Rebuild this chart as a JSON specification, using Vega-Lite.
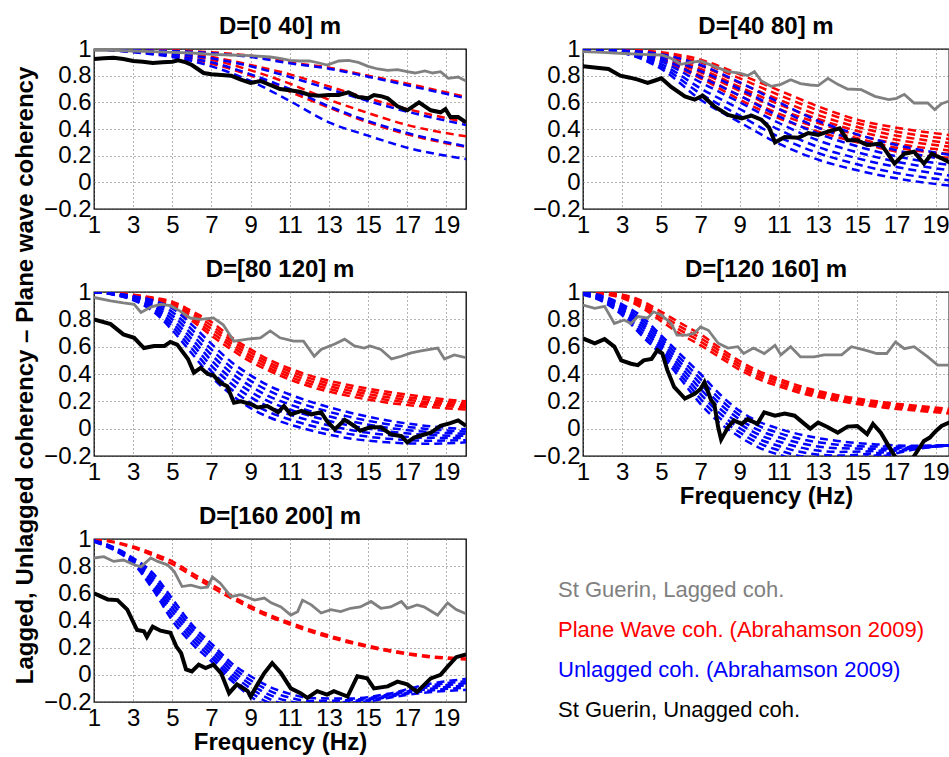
{
"$schema": "https://vega.github.io/schema/vega-lite/v6.json",
"padding": {"left": 13, "top": 14, "right": 0, "bottom": 0},
"config": {
 "font": "Liberation Sans",
 "view": {"stroke": "black", "strokeWidth": 1.3},
 "axis": {"labelFont": "Liberation Sans", "labelFontSize": 24, "labelColor": "black", "ticks": false, "domain": false, "grid": true, "gridDash": [1, 3], "gridColor": "#666666", "gridWidth": 1, "labelPadding": 3, "titleFont": "Liberation Sans", "titleFontSize": 24, "titleFontWeight": "bold", "titleColor": "black", "labelOverlap": false, "labelFlush": false},
 "axisX": {"labelPadding": 4, "titlePadding": 0},
 "axisY": {"titlePadding": 5},
 "title": {"fontSize": 24, "fontWeight": "bold", "color": "black", "font": "Liberation Sans", "offset": -2, "baseline": "alphabetic", "frame": "group"}
},
"datasets": {"d": [
{"p":1,"s":"r1","f":1,"v":1},{"p":1,"s":"r1","f":3,"v":0.995},{"p":1,"s":"r1","f":5,"v":0.99},{"p":1,"s":"r1","f":7,"v":0.975},{"p":1,"s":"r1","f":9,"v":0.95},{"p":1,"s":"r1","f":11,"v":0.9},{"p":1,"s":"r1","f":13,"v":0.86},{"p":1,"s":"r1","f":15,"v":0.8},{"p":1,"s":"r1","f":17,"v":0.74},{"p":1,"s":"r1","f":20,"v":0.64},
{"p":1,"s":"b1","f":1,"v":1},{"p":1,"s":"b1","f":3,"v":0.99},{"p":1,"s":"b1","f":5,"v":0.985},{"p":1,"s":"b1","f":7,"v":0.968},{"p":1,"s":"b1","f":9,"v":0.94},{"p":1,"s":"b1","f":11,"v":0.893},{"p":1,"s":"b1","f":13,"v":0.852},{"p":1,"s":"b1","f":15,"v":0.792},{"p":1,"s":"b1","f":17,"v":0.728},{"p":1,"s":"b1","f":20,"v":0.63},
{"p":1,"s":"r2","f":1,"v":1},{"p":1,"s":"r2","f":3,"v":0.99},{"p":1,"s":"r2","f":5,"v":0.97},{"p":1,"s":"r2","f":7,"v":0.94},{"p":1,"s":"r2","f":9,"v":0.88},{"p":1,"s":"r2","f":11,"v":0.81},{"p":1,"s":"r2","f":13,"v":0.72},{"p":1,"s":"r2","f":15,"v":0.63},{"p":1,"s":"r2","f":17,"v":0.55},{"p":1,"s":"r2","f":20,"v":0.45},
{"p":1,"s":"b2","f":1,"v":1},{"p":1,"s":"b2","f":3,"v":0.988},{"p":1,"s":"b2","f":5,"v":0.965},{"p":1,"s":"b2","f":7,"v":0.93},{"p":1,"s":"b2","f":9,"v":0.87},{"p":1,"s":"b2","f":11,"v":0.79},{"p":1,"s":"b2","f":13,"v":0.7},{"p":1,"s":"b2","f":15,"v":0.61},{"p":1,"s":"b2","f":17,"v":0.53},{"p":1,"s":"b2","f":20,"v":0.43},
{"p":1,"s":"r3","f":1,"v":1},{"p":1,"s":"r3","f":3,"v":0.985},{"p":1,"s":"r3","f":5,"v":0.96},{"p":1,"s":"r3","f":7,"v":0.92},{"p":1,"s":"r3","f":9,"v":0.84},{"p":1,"s":"r3","f":11,"v":0.74},{"p":1,"s":"r3","f":13,"v":0.62},{"p":1,"s":"r3","f":15,"v":0.52},{"p":1,"s":"r3","f":17,"v":0.43},{"p":1,"s":"r3","f":20,"v":0.345},
{"p":1,"s":"b3","f":1,"v":1},{"p":1,"s":"b3","f":3,"v":0.98},{"p":1,"s":"b3","f":5,"v":0.95},{"p":1,"s":"b3","f":7,"v":0.9},{"p":1,"s":"b3","f":9,"v":0.81},{"p":1,"s":"b3","f":11,"v":0.7},{"p":1,"s":"b3","f":13,"v":0.57},{"p":1,"s":"b3","f":15,"v":0.46},{"p":1,"s":"b3","f":17,"v":0.37},{"p":1,"s":"b3","f":20,"v":0.27},
{"p":1,"s":"r4","f":1,"v":1},{"p":1,"s":"r4","f":3,"v":0.98},{"p":1,"s":"r4","f":5,"v":0.95},{"p":1,"s":"r4","f":7,"v":0.89},{"p":1,"s":"r4","f":9,"v":0.8},{"p":1,"s":"r4","f":11,"v":0.68},{"p":1,"s":"r4","f":13,"v":0.56},{"p":1,"s":"r4","f":15,"v":0.45},{"p":1,"s":"r4","f":17,"v":0.36},{"p":1,"s":"r4","f":20,"v":0.265},
{"p":1,"s":"b4","f":1,"v":1},{"p":1,"s":"b4","f":3,"v":0.975},{"p":1,"s":"b4","f":5,"v":0.94},{"p":1,"s":"b4","f":7,"v":0.87},{"p":1,"s":"b4","f":9,"v":0.76},{"p":1,"s":"b4","f":11,"v":0.61},{"p":1,"s":"b4","f":13,"v":0.45},{"p":1,"s":"b4","f":15,"v":0.35},{"p":1,"s":"b4","f":17,"v":0.26},{"p":1,"s":"b4","f":20,"v":0.175},
{"p":1,"s":"g","f":1,"v":0.99},{"p":1,"s":"g","f":2,"v":0.99},{"p":1,"s":"g","f":3,"v":0.985},{"p":1,"s":"g","f":4,"v":0.98},{"p":1,"s":"g","f":5,"v":0.975},{"p":1,"s":"g","f":6,"v":0.97},{"p":1,"s":"g","f":7,"v":0.96},{"p":1,"s":"g","f":8,"v":0.955},{"p":1,"s":"g","f":9,"v":0.95},{"p":1,"s":"g","f":10,"v":0.94},{"p":1,"s":"g","f":10.5,"v":0.93},{"p":1,"s":"g","f":11,"v":0.915},{"p":1,"s":"g","f":11.5,"v":0.91},{"p":1,"s":"g","f":12,"v":0.91},{"p":1,"s":"g","f":12.5,"v":0.895},{"p":1,"s":"g","f":12.9,"v":0.88},{"p":1,"s":"g","f":13.5,"v":0.91},{"p":1,"s":"g","f":14,"v":0.915},{"p":1,"s":"g","f":14.5,"v":0.9},{"p":1,"s":"g","f":15,"v":0.87},{"p":1,"s":"g","f":15.5,"v":0.85},{"p":1,"s":"g","f":16,"v":0.84},{"p":1,"s":"g","f":16.5,"v":0.845},{"p":1,"s":"g","f":17,"v":0.83},{"p":1,"s":"g","f":17.4,"v":0.82},{"p":1,"s":"g","f":17.9,"v":0.835},{"p":1,"s":"g","f":18.3,"v":0.82},{"p":1,"s":"g","f":18.7,"v":0.83},{"p":1,"s":"g","f":19.1,"v":0.78},{"p":1,"s":"g","f":19.6,"v":0.79},{"p":1,"s":"g","f":20,"v":0.76},
{"p":1,"s":"k","f":1,"v":0.925},{"p":1,"s":"k","f":1.5,"v":0.93},{"p":1,"s":"k","f":2,"v":0.935},{"p":1,"s":"k","f":2.5,"v":0.925},{"p":1,"s":"k","f":3,"v":0.91},{"p":1,"s":"k","f":3.5,"v":0.905},{"p":1,"s":"k","f":4,"v":0.895},{"p":1,"s":"k","f":4.5,"v":0.9},{"p":1,"s":"k","f":5,"v":0.905},{"p":1,"s":"k","f":5.3,"v":0.915},{"p":1,"s":"k","f":5.7,"v":0.9},{"p":1,"s":"k","f":6,"v":0.88},{"p":1,"s":"k","f":6.3,"v":0.85},{"p":1,"s":"k","f":6.6,"v":0.82},{"p":1,"s":"k","f":7,"v":0.81},{"p":1,"s":"k","f":7.5,"v":0.805},{"p":1,"s":"k","f":8,"v":0.8},{"p":1,"s":"k","f":8.5,"v":0.77},{"p":1,"s":"k","f":9,"v":0.745},{"p":1,"s":"k","f":9.5,"v":0.76},{"p":1,"s":"k","f":10,"v":0.73},{"p":1,"s":"k","f":10.5,"v":0.7},{"p":1,"s":"k","f":11,"v":0.69},{"p":1,"s":"k","f":11.5,"v":0.68},{"p":1,"s":"k","f":12,"v":0.655},{"p":1,"s":"k","f":12.5,"v":0.65},{"p":1,"s":"k","f":13,"v":0.655},{"p":1,"s":"k","f":13.5,"v":0.655},{"p":1,"s":"k","f":14,"v":0.675},{"p":1,"s":"k","f":14.5,"v":0.64},{"p":1,"s":"k","f":15,"v":0.63},{"p":1,"s":"k","f":15.3,"v":0.655},{"p":1,"s":"k","f":15.7,"v":0.645},{"p":1,"s":"k","f":16,"v":0.63},{"p":1,"s":"k","f":16.5,"v":0.57},{"p":1,"s":"k","f":17,"v":0.54},{"p":1,"s":"k","f":17.6,"v":0.6},{"p":1,"s":"k","f":18.2,"v":0.54},{"p":1,"s":"k","f":18.7,"v":0.525},{"p":1,"s":"k","f":18.95,"v":0.55},{"p":1,"s":"k","f":19.2,"v":0.49},{"p":1,"s":"k","f":19.6,"v":0.49},{"p":1,"s":"k","f":20,"v":0.45},
{"p":2,"s":"r1","f":1,"v":1},{"p":2,"s":"r1","f":3,"v":0.995},{"p":2,"s":"r1","f":5,"v":0.975},{"p":2,"s":"r1","f":7,"v":0.92},{"p":2,"s":"r1","f":9,"v":0.81},{"p":2,"s":"r1","f":11,"v":0.69},{"p":2,"s":"r1","f":13,"v":0.57},{"p":2,"s":"r1","f":15,"v":0.47},{"p":2,"s":"r1","f":17,"v":0.41},{"p":2,"s":"r1","f":20,"v":0.35},
{"p":2,"s":"r2","f":1,"v":1},{"p":2,"s":"r2","f":3,"v":0.993},{"p":2,"s":"r2","f":5,"v":0.965},{"p":2,"s":"r2","f":7,"v":0.9},{"p":2,"s":"r2","f":9,"v":0.78},{"p":2,"s":"r2","f":11,"v":0.655},{"p":2,"s":"r2","f":13,"v":0.54},{"p":2,"s":"r2","f":15,"v":0.445},{"p":2,"s":"r2","f":17,"v":0.38},{"p":2,"s":"r2","f":20,"v":0.32},
{"p":2,"s":"r3","f":1,"v":1},{"p":2,"s":"r3","f":3,"v":0.99},{"p":2,"s":"r3","f":5,"v":0.953},{"p":2,"s":"r3","f":7,"v":0.873},{"p":2,"s":"r3","f":9,"v":0.745},{"p":2,"s":"r3","f":11,"v":0.62},{"p":2,"s":"r3","f":13,"v":0.505},{"p":2,"s":"r3","f":15,"v":0.415},{"p":2,"s":"r3","f":17,"v":0.35},{"p":2,"s":"r3","f":20,"v":0.29},
{"p":2,"s":"r4","f":1,"v":1},{"p":2,"s":"r4","f":3,"v":0.988},{"p":2,"s":"r4","f":5,"v":0.943},{"p":2,"s":"r4","f":7,"v":0.85},{"p":2,"s":"r4","f":9,"v":0.715},{"p":2,"s":"r4","f":11,"v":0.585},{"p":2,"s":"r4","f":13,"v":0.475},{"p":2,"s":"r4","f":15,"v":0.385},{"p":2,"s":"r4","f":17,"v":0.32},{"p":2,"s":"r4","f":20,"v":0.265},
{"p":2,"s":"r5","f":1,"v":1},{"p":2,"s":"r5","f":3,"v":0.985},{"p":2,"s":"r5","f":5,"v":0.932},{"p":2,"s":"r5","f":7,"v":0.825},{"p":2,"s":"r5","f":9,"v":0.685},{"p":2,"s":"r5","f":11,"v":0.55},{"p":2,"s":"r5","f":13,"v":0.445},{"p":2,"s":"r5","f":15,"v":0.355},{"p":2,"s":"r5","f":17,"v":0.29},{"p":2,"s":"r5","f":20,"v":0.235},
{"p":2,"s":"r6","f":1,"v":1},{"p":2,"s":"r6","f":3,"v":0.983},{"p":2,"s":"r6","f":5,"v":0.92},{"p":2,"s":"r6","f":7,"v":0.8},{"p":2,"s":"r6","f":9,"v":0.65},{"p":2,"s":"r6","f":11,"v":0.515},{"p":2,"s":"r6","f":13,"v":0.41},{"p":2,"s":"r6","f":15,"v":0.33},{"p":2,"s":"r6","f":17,"v":0.26},{"p":2,"s":"r6","f":20,"v":0.21},
{"p":2,"s":"r7","f":1,"v":1},{"p":2,"s":"r7","f":3,"v":0.98},{"p":2,"s":"r7","f":5,"v":0.91},{"p":2,"s":"r7","f":7,"v":0.78},{"p":2,"s":"r7","f":9,"v":0.62},{"p":2,"s":"r7","f":11,"v":0.48},{"p":2,"s":"r7","f":13,"v":0.38},{"p":2,"s":"r7","f":15,"v":0.3},{"p":2,"s":"r7","f":17,"v":0.23},{"p":2,"s":"r7","f":20,"v":0.18},
{"p":2,"s":"b1","f":1,"v":1},{"p":2,"s":"b1","f":3,"v":0.99},{"p":2,"s":"b1","f":5,"v":0.96},{"p":2,"s":"b1","f":7,"v":0.88},{"p":2,"s":"b1","f":9,"v":0.75},{"p":2,"s":"b1","f":11,"v":0.6},{"p":2,"s":"b1","f":13,"v":0.46},{"p":2,"s":"b1","f":15,"v":0.36},{"p":2,"s":"b1","f":17,"v":0.28},{"p":2,"s":"b1","f":20,"v":0.2},
{"p":2,"s":"b2","f":1,"v":1},{"p":2,"s":"b2","f":3,"v":0.987},{"p":2,"s":"b2","f":5,"v":0.942},{"p":2,"s":"b2","f":7,"v":0.835},{"p":2,"s":"b2","f":9,"v":0.7},{"p":2,"s":"b2","f":11,"v":0.55},{"p":2,"s":"b2","f":13,"v":0.41},{"p":2,"s":"b2","f":15,"v":0.315},{"p":2,"s":"b2","f":17,"v":0.24},{"p":2,"s":"b2","f":20,"v":0.16},
{"p":2,"s":"b3","f":1,"v":1},{"p":2,"s":"b3","f":3,"v":0.983},{"p":2,"s":"b3","f":5,"v":0.923},{"p":2,"s":"b3","f":7,"v":0.79},{"p":2,"s":"b3","f":9,"v":0.65},{"p":2,"s":"b3","f":11,"v":0.495},{"p":2,"s":"b3","f":13,"v":0.365},{"p":2,"s":"b3","f":15,"v":0.27},{"p":2,"s":"b3","f":17,"v":0.195},{"p":2,"s":"b3","f":20,"v":0.125},
{"p":2,"s":"b4","f":1,"v":1},{"p":2,"s":"b4","f":3,"v":0.98},{"p":2,"s":"b4","f":5,"v":0.905},{"p":2,"s":"b4","f":7,"v":0.75},{"p":2,"s":"b4","f":9,"v":0.6},{"p":2,"s":"b4","f":11,"v":0.445},{"p":2,"s":"b4","f":13,"v":0.315},{"p":2,"s":"b4","f":15,"v":0.225},{"p":2,"s":"b4","f":17,"v":0.155},{"p":2,"s":"b4","f":20,"v":0.085},
{"p":2,"s":"b5","f":1,"v":1},{"p":2,"s":"b5","f":3,"v":0.977},{"p":2,"s":"b5","f":5,"v":0.887},{"p":2,"s":"b5","f":7,"v":0.705},{"p":2,"s":"b5","f":9,"v":0.55},{"p":2,"s":"b5","f":11,"v":0.395},{"p":2,"s":"b5","f":13,"v":0.265},{"p":2,"s":"b5","f":15,"v":0.18},{"p":2,"s":"b5","f":17,"v":0.115},{"p":2,"s":"b5","f":20,"v":0.045},
{"p":2,"s":"b6","f":1,"v":1},{"p":2,"s":"b6","f":3,"v":0.973},{"p":2,"s":"b6","f":5,"v":0.868},{"p":2,"s":"b6","f":7,"v":0.665},{"p":2,"s":"b6","f":9,"v":0.5},{"p":2,"s":"b6","f":11,"v":0.34},{"p":2,"s":"b6","f":13,"v":0.22},{"p":2,"s":"b6","f":15,"v":0.135},{"p":2,"s":"b6","f":17,"v":0.07},{"p":2,"s":"b6","f":20,"v":0.01},
{"p":2,"s":"b7","f":1,"v":1},{"p":2,"s":"b7","f":3,"v":0.97},{"p":2,"s":"b7","f":5,"v":0.85},{"p":2,"s":"b7","f":7,"v":0.62},{"p":2,"s":"b7","f":9,"v":0.45},{"p":2,"s":"b7","f":11,"v":0.29},{"p":2,"s":"b7","f":13,"v":0.17},{"p":2,"s":"b7","f":15,"v":0.09},{"p":2,"s":"b7","f":17,"v":0.03},{"p":2,"s":"b7","f":20,"v":-0.03},
{"p":2,"s":"g","f":1,"v":0.98},{"p":2,"s":"g","f":2,"v":0.975},{"p":2,"s":"g","f":2.6,"v":0.97},{"p":2,"s":"g","f":4,"v":0.96},{"p":2,"s":"g","f":5,"v":0.955},{"p":2,"s":"g","f":5.5,"v":0.93},{"p":2,"s":"g","f":6,"v":0.885},{"p":2,"s":"g","f":6.5,"v":0.9},{"p":2,"s":"g","f":7,"v":0.91},{"p":2,"s":"g","f":7.7,"v":0.87},{"p":2,"s":"g","f":8.4,"v":0.83},{"p":2,"s":"g","f":9,"v":0.82},{"p":2,"s":"g","f":9.4,"v":0.8},{"p":2,"s":"g","f":9.75,"v":0.83},{"p":2,"s":"g","f":10.1,"v":0.76},{"p":2,"s":"g","f":10.6,"v":0.72},{"p":2,"s":"g","f":11.1,"v":0.735},{"p":2,"s":"g","f":11.6,"v":0.77},{"p":2,"s":"g","f":12.1,"v":0.74},{"p":2,"s":"g","f":12.6,"v":0.73},{"p":2,"s":"g","f":13,"v":0.725},{"p":2,"s":"g","f":13.5,"v":0.78},{"p":2,"s":"g","f":14,"v":0.735},{"p":2,"s":"g","f":14.5,"v":0.7},{"p":2,"s":"g","f":15.2,"v":0.695},{"p":2,"s":"g","f":15.9,"v":0.645},{"p":2,"s":"g","f":16.6,"v":0.62},{"p":2,"s":"g","f":17,"v":0.63},{"p":2,"s":"g","f":17.4,"v":0.66},{"p":2,"s":"g","f":17.9,"v":0.595},{"p":2,"s":"g","f":18.6,"v":0.595},{"p":2,"s":"g","f":18.95,"v":0.545},{"p":2,"s":"g","f":19.3,"v":0.59},{"p":2,"s":"g","f":19.7,"v":0.61},{"p":2,"s":"g","f":20,"v":0.6},
{"p":2,"s":"k","f":1,"v":0.87},{"p":2,"s":"k","f":1.7,"v":0.86},{"p":2,"s":"k","f":2.3,"v":0.85},{"p":2,"s":"k","f":2.9,"v":0.8},{"p":2,"s":"k","f":3.4,"v":0.785},{"p":2,"s":"k","f":3.8,"v":0.77},{"p":2,"s":"k","f":4.3,"v":0.745},{"p":2,"s":"k","f":4.6,"v":0.76},{"p":2,"s":"k","f":5,"v":0.78},{"p":2,"s":"k","f":5.5,"v":0.715},{"p":2,"s":"k","f":6.2,"v":0.645},{"p":2,"s":"k","f":6.7,"v":0.62},{"p":2,"s":"k","f":7.1,"v":0.65},{"p":2,"s":"k","f":7.7,"v":0.57},{"p":2,"s":"k","f":8.4,"v":0.505},{"p":2,"s":"k","f":9.1,"v":0.48},{"p":2,"s":"k","f":9.6,"v":0.5},{"p":2,"s":"k","f":10.1,"v":0.47},{"p":2,"s":"k","f":10.5,"v":0.41},{"p":2,"s":"k","f":10.8,"v":0.3},{"p":2,"s":"k","f":11.3,"v":0.34},{"p":2,"s":"k","f":12,"v":0.335},{"p":2,"s":"k","f":12.5,"v":0.37},{"p":2,"s":"k","f":13,"v":0.355},{"p":2,"s":"k","f":13.5,"v":0.38},{"p":2,"s":"k","f":14.1,"v":0.405},{"p":2,"s":"k","f":14.5,"v":0.315},{"p":2,"s":"k","f":15,"v":0.315},{"p":2,"s":"k","f":15.5,"v":0.28},{"p":2,"s":"k","f":16.2,"v":0.29},{"p":2,"s":"k","f":16.9,"v":0.14},{"p":2,"s":"k","f":17.4,"v":0.215},{"p":2,"s":"k","f":17.9,"v":0.23},{"p":2,"s":"k","f":18.4,"v":0.14},{"p":2,"s":"k","f":18.8,"v":0.215},{"p":2,"s":"k","f":19.3,"v":0.18},{"p":2,"s":"k","f":19.7,"v":0.15},{"p":2,"s":"k","f":20,"v":0.14},
{"p":3,"s":"r1","f":1,"v":1},{"p":3,"s":"r1","f":2,"v":0.995},{"p":3,"s":"r1","f":3,"v":0.98},{"p":3,"s":"r1","f":4,"v":0.96},{"p":3,"s":"r1","f":5,"v":0.93},{"p":3,"s":"r1","f":6,"v":0.86},{"p":3,"s":"r1","f":7,"v":0.78},{"p":3,"s":"r1","f":8,"v":0.67},{"p":3,"s":"r1","f":9,"v":0.58},{"p":3,"s":"r1","f":10,"v":0.5},{"p":3,"s":"r1","f":11,"v":0.44},{"p":3,"s":"r1","f":12,"v":0.39},{"p":3,"s":"r1","f":14,"v":0.32},{"p":3,"s":"r1","f":16,"v":0.27},{"p":3,"s":"r1","f":18,"v":0.23},{"p":3,"s":"r1","f":20,"v":0.2},
{"p":3,"s":"r2","f":1,"v":1},{"p":3,"s":"r2","f":2,"v":0.994},{"p":3,"s":"r2","f":3,"v":0.978},{"p":3,"s":"r2","f":4,"v":0.955},{"p":3,"s":"r2","f":5,"v":0.92},{"p":3,"s":"r2","f":6,"v":0.843},{"p":3,"s":"r2","f":7,"v":0.755},{"p":3,"s":"r2","f":8,"v":0.648},{"p":3,"s":"r2","f":9,"v":0.558},{"p":3,"s":"r2","f":10,"v":0.48},{"p":3,"s":"r2","f":11,"v":0.42},{"p":3,"s":"r2","f":12,"v":0.37},{"p":3,"s":"r2","f":14,"v":0.3},{"p":3,"s":"r2","f":16,"v":0.25},{"p":3,"s":"r2","f":18,"v":0.213},{"p":3,"s":"r2","f":20,"v":0.185},
{"p":3,"s":"r3","f":1,"v":1},{"p":3,"s":"r3","f":2,"v":0.993},{"p":3,"s":"r3","f":3,"v":0.975},{"p":3,"s":"r3","f":4,"v":0.95},{"p":3,"s":"r3","f":5,"v":0.91},{"p":3,"s":"r3","f":6,"v":0.825},{"p":3,"s":"r3","f":7,"v":0.73},{"p":3,"s":"r3","f":8,"v":0.625},{"p":3,"s":"r3","f":9,"v":0.535},{"p":3,"s":"r3","f":10,"v":0.46},{"p":3,"s":"r3","f":11,"v":0.4},{"p":3,"s":"r3","f":12,"v":0.35},{"p":3,"s":"r3","f":14,"v":0.28},{"p":3,"s":"r3","f":16,"v":0.23},{"p":3,"s":"r3","f":18,"v":0.195},{"p":3,"s":"r3","f":20,"v":0.17},
{"p":3,"s":"r4","f":1,"v":1},{"p":3,"s":"r4","f":2,"v":0.991},{"p":3,"s":"r4","f":3,"v":0.973},{"p":3,"s":"r4","f":4,"v":0.945},{"p":3,"s":"r4","f":5,"v":0.9},{"p":3,"s":"r4","f":6,"v":0.808},{"p":3,"s":"r4","f":7,"v":0.705},{"p":3,"s":"r4","f":8,"v":0.603},{"p":3,"s":"r4","f":9,"v":0.513},{"p":3,"s":"r4","f":10,"v":0.44},{"p":3,"s":"r4","f":11,"v":0.38},{"p":3,"s":"r4","f":12,"v":0.33},{"p":3,"s":"r4","f":14,"v":0.26},{"p":3,"s":"r4","f":16,"v":0.21},{"p":3,"s":"r4","f":18,"v":0.178},{"p":3,"s":"r4","f":20,"v":0.155},
{"p":3,"s":"r5","f":1,"v":1},{"p":3,"s":"r5","f":2,"v":0.99},{"p":3,"s":"r5","f":3,"v":0.97},{"p":3,"s":"r5","f":4,"v":0.94},{"p":3,"s":"r5","f":5,"v":0.89},{"p":3,"s":"r5","f":6,"v":0.79},{"p":3,"s":"r5","f":7,"v":0.68},{"p":3,"s":"r5","f":8,"v":0.58},{"p":3,"s":"r5","f":9,"v":0.49},{"p":3,"s":"r5","f":10,"v":0.42},{"p":3,"s":"r5","f":11,"v":0.36},{"p":3,"s":"r5","f":12,"v":0.31},{"p":3,"s":"r5","f":14,"v":0.24},{"p":3,"s":"r5","f":16,"v":0.19},{"p":3,"s":"r5","f":18,"v":0.16},{"p":3,"s":"r5","f":20,"v":0.14},
{"p":3,"s":"b1","f":1,"v":1},{"p":3,"s":"b1","f":2,"v":0.99},{"p":3,"s":"b1","f":3,"v":0.97},{"p":3,"s":"b1","f":4,"v":0.94},{"p":3,"s":"b1","f":5,"v":0.88},{"p":3,"s":"b1","f":6,"v":0.76},{"p":3,"s":"b1","f":7,"v":0.62},{"p":3,"s":"b1","f":8,"v":0.49},{"p":3,"s":"b1","f":9,"v":0.39},{"p":3,"s":"b1","f":10,"v":0.31},{"p":3,"s":"b1","f":11,"v":0.25},{"p":3,"s":"b1","f":12,"v":0.2},{"p":3,"s":"b1","f":14,"v":0.12},{"p":3,"s":"b1","f":16,"v":0.06},{"p":3,"s":"b1","f":18,"v":0.02},{"p":3,"s":"b1","f":20,"v":-0.005},
{"p":3,"s":"b2","f":1,"v":1},{"p":3,"s":"b2","f":2,"v":0.988},{"p":3,"s":"b2","f":3,"v":0.965},{"p":3,"s":"b2","f":4,"v":0.927},{"p":3,"s":"b2","f":5,"v":0.853},{"p":3,"s":"b2","f":6,"v":0.725},{"p":3,"s":"b2","f":7,"v":0.58},{"p":3,"s":"b2","f":8,"v":0.45},{"p":3,"s":"b2","f":9,"v":0.35},{"p":3,"s":"b2","f":10,"v":0.272},{"p":3,"s":"b2","f":11,"v":0.213},{"p":3,"s":"b2","f":12,"v":0.165},{"p":3,"s":"b2","f":14,"v":0.088},{"p":3,"s":"b2","f":16,"v":0.033},{"p":3,"s":"b2","f":18,"v":-0.002},{"p":3,"s":"b2","f":20,"v":-0.021},
{"p":3,"s":"b3","f":1,"v":1},{"p":3,"s":"b3","f":2,"v":0.987},{"p":3,"s":"b3","f":3,"v":0.96},{"p":3,"s":"b3","f":4,"v":0.913},{"p":3,"s":"b3","f":5,"v":0.827},{"p":3,"s":"b3","f":6,"v":0.69},{"p":3,"s":"b3","f":7,"v":0.54},{"p":3,"s":"b3","f":8,"v":0.41},{"p":3,"s":"b3","f":9,"v":0.31},{"p":3,"s":"b3","f":10,"v":0.233},{"p":3,"s":"b3","f":11,"v":0.177},{"p":3,"s":"b3","f":12,"v":0.13},{"p":3,"s":"b3","f":14,"v":0.057},{"p":3,"s":"b3","f":16,"v":0.007},{"p":3,"s":"b3","f":18,"v":-0.023},{"p":3,"s":"b3","f":20,"v":-0.037},
{"p":3,"s":"b4","f":1,"v":1},{"p":3,"s":"b4","f":2,"v":0.985},{"p":3,"s":"b4","f":3,"v":0.955},{"p":3,"s":"b4","f":4,"v":0.9},{"p":3,"s":"b4","f":5,"v":0.8},{"p":3,"s":"b4","f":6,"v":0.655},{"p":3,"s":"b4","f":7,"v":0.5},{"p":3,"s":"b4","f":8,"v":0.37},{"p":3,"s":"b4","f":9,"v":0.27},{"p":3,"s":"b4","f":10,"v":0.195},{"p":3,"s":"b4","f":11,"v":0.14},{"p":3,"s":"b4","f":12,"v":0.095},{"p":3,"s":"b4","f":14,"v":0.025},{"p":3,"s":"b4","f":16,"v":-0.02},{"p":3,"s":"b4","f":18,"v":-0.045},{"p":3,"s":"b4","f":20,"v":-0.053},
{"p":3,"s":"b5","f":1,"v":1},{"p":3,"s":"b5","f":2,"v":0.983},{"p":3,"s":"b5","f":3,"v":0.95},{"p":3,"s":"b5","f":4,"v":0.887},{"p":3,"s":"b5","f":5,"v":0.773},{"p":3,"s":"b5","f":6,"v":0.62},{"p":3,"s":"b5","f":7,"v":0.46},{"p":3,"s":"b5","f":8,"v":0.33},{"p":3,"s":"b5","f":9,"v":0.23},{"p":3,"s":"b5","f":10,"v":0.157},{"p":3,"s":"b5","f":11,"v":0.103},{"p":3,"s":"b5","f":12,"v":0.06},{"p":3,"s":"b5","f":14,"v":-0.007},{"p":3,"s":"b5","f":16,"v":-0.047},{"p":3,"s":"b5","f":18,"v":-0.067},{"p":3,"s":"b5","f":20,"v":-0.068},
{"p":3,"s":"b6","f":1,"v":1},{"p":3,"s":"b6","f":2,"v":0.982},{"p":3,"s":"b6","f":3,"v":0.945},{"p":3,"s":"b6","f":4,"v":0.873},{"p":3,"s":"b6","f":5,"v":0.747},{"p":3,"s":"b6","f":6,"v":0.585},{"p":3,"s":"b6","f":7,"v":0.42},{"p":3,"s":"b6","f":8,"v":0.29},{"p":3,"s":"b6","f":9,"v":0.19},{"p":3,"s":"b6","f":10,"v":0.118},{"p":3,"s":"b6","f":11,"v":0.067},{"p":3,"s":"b6","f":12,"v":0.025},{"p":3,"s":"b6","f":14,"v":-0.038},{"p":3,"s":"b6","f":16,"v":-0.073},{"p":3,"s":"b6","f":18,"v":-0.088},{"p":3,"s":"b6","f":20,"v":-0.084},
{"p":3,"s":"b7","f":1,"v":1},{"p":3,"s":"b7","f":2,"v":0.98},{"p":3,"s":"b7","f":3,"v":0.94},{"p":3,"s":"b7","f":4,"v":0.86},{"p":3,"s":"b7","f":5,"v":0.72},{"p":3,"s":"b7","f":6,"v":0.55},{"p":3,"s":"b7","f":7,"v":0.38},{"p":3,"s":"b7","f":8,"v":0.25},{"p":3,"s":"b7","f":9,"v":0.15},{"p":3,"s":"b7","f":10,"v":0.08},{"p":3,"s":"b7","f":11,"v":0.03},{"p":3,"s":"b7","f":12,"v":-0.01},{"p":3,"s":"b7","f":14,"v":-0.07},{"p":3,"s":"b7","f":16,"v":-0.1},{"p":3,"s":"b7","f":18,"v":-0.11},{"p":3,"s":"b7","f":20,"v":-0.1},
{"p":3,"s":"g","f":1,"v":0.96},{"p":3,"s":"g","f":1.85,"v":0.935},{"p":3,"s":"g","f":2.5,"v":0.92},{"p":3,"s":"g","f":3.05,"v":0.91},{"p":3,"s":"g","f":3.4,"v":0.85},{"p":3,"s":"g","f":3.9,"v":0.89},{"p":3,"s":"g","f":4.4,"v":0.91},{"p":3,"s":"g","f":4.9,"v":0.9},{"p":3,"s":"g","f":5.4,"v":0.86},{"p":3,"s":"g","f":5.9,"v":0.81},{"p":3,"s":"g","f":6.45,"v":0.8},{"p":3,"s":"g","f":7.1,"v":0.81},{"p":3,"s":"g","f":7.6,"v":0.76},{"p":3,"s":"g","f":8.15,"v":0.64},{"p":3,"s":"g","f":8.85,"v":0.655},{"p":3,"s":"g","f":9.5,"v":0.665},{"p":3,"s":"g","f":10,"v":0.715},{"p":3,"s":"g","f":10.5,"v":0.665},{"p":3,"s":"g","f":11.2,"v":0.64},{"p":3,"s":"g","f":11.7,"v":0.64},{"p":3,"s":"g","f":12.25,"v":0.53},{"p":3,"s":"g","f":12.6,"v":0.58},{"p":3,"s":"g","f":13.3,"v":0.62},{"p":3,"s":"g","f":13.8,"v":0.655},{"p":3,"s":"g","f":14.3,"v":0.605},{"p":3,"s":"g","f":14.8,"v":0.59},{"p":3,"s":"g","f":15.1,"v":0.605},{"p":3,"s":"g","f":15.65,"v":0.58},{"p":3,"s":"g","f":16.2,"v":0.51},{"p":3,"s":"g","f":16.7,"v":0.53},{"p":3,"s":"g","f":17.2,"v":0.555},{"p":3,"s":"g","f":17.7,"v":0.57},{"p":3,"s":"g","f":18.55,"v":0.59},{"p":3,"s":"g","f":18.9,"v":0.51},{"p":3,"s":"g","f":19.4,"v":0.54},{"p":3,"s":"g","f":20,"v":0.52},
{"p":3,"s":"k","f":1,"v":0.8},{"p":3,"s":"k","f":1.85,"v":0.765},{"p":3,"s":"k","f":2.5,"v":0.69},{"p":3,"s":"k","f":3.05,"v":0.665},{"p":3,"s":"k","f":3.55,"v":0.59},{"p":3,"s":"k","f":4.07,"v":0.605},{"p":3,"s":"k","f":4.6,"v":0.605},{"p":3,"s":"k","f":4.9,"v":0.635},{"p":3,"s":"k","f":5.25,"v":0.615},{"p":3,"s":"k","f":5.8,"v":0.51},{"p":3,"s":"k","f":6.1,"v":0.41},{"p":3,"s":"k","f":6.45,"v":0.445},{"p":3,"s":"k","f":6.8,"v":0.4},{"p":3,"s":"k","f":7.1,"v":0.39},{"p":3,"s":"k","f":7.45,"v":0.335},{"p":3,"s":"k","f":7.8,"v":0.31},{"p":3,"s":"k","f":8.15,"v":0.19},{"p":3,"s":"k","f":8.5,"v":0.2},{"p":3,"s":"k","f":9,"v":0.18},{"p":3,"s":"k","f":9.35,"v":0.155},{"p":3,"s":"k","f":9.85,"v":0.165},{"p":3,"s":"k","f":10.4,"v":0.12},{"p":3,"s":"k","f":10.7,"v":0.165},{"p":3,"s":"k","f":11.05,"v":0.105},{"p":3,"s":"k","f":11.6,"v":0.13},{"p":3,"s":"k","f":12.1,"v":0.105},{"p":3,"s":"k","f":12.6,"v":0.12},{"p":3,"s":"k","f":12.9,"v":0.055},{"p":3,"s":"k","f":13.3,"v":-0.005},{"p":3,"s":"k","f":13.8,"v":0.065},{"p":3,"s":"k","f":14.3,"v":0.02},{"p":3,"s":"k","f":14.6,"v":-0.015},{"p":3,"s":"k","f":15.1,"v":0.01},{"p":3,"s":"k","f":15.65,"v":0.01},{"p":3,"s":"k","f":16.15,"v":-0.04},{"p":3,"s":"k","f":16.7,"v":-0.055},{"p":3,"s":"k","f":17,"v":-0.1},{"p":3,"s":"k","f":17.35,"v":-0.065},{"p":3,"s":"k","f":17.7,"v":-0.05},{"p":3,"s":"k","f":18.2,"v":-0.03},{"p":3,"s":"k","f":18.7,"v":0.02},{"p":3,"s":"k","f":19.2,"v":0.04},{"p":3,"s":"k","f":19.6,"v":0.06},{"p":3,"s":"k","f":20,"v":0.02},
{"p":4,"s":"r1","f":1,"v":1},{"p":4,"s":"r1","f":2,"v":0.995},{"p":4,"s":"r1","f":3,"v":0.98},{"p":4,"s":"r1","f":4,"v":0.935},{"p":4,"s":"r1","f":5,"v":0.855},{"p":4,"s":"r1","f":6,"v":0.77},{"p":4,"s":"r1","f":7,"v":0.69},{"p":4,"s":"r1","f":8,"v":0.59},{"p":4,"s":"r1","f":9,"v":0.495},{"p":4,"s":"r1","f":10,"v":0.42},{"p":4,"s":"r1","f":11,"v":0.365},{"p":4,"s":"r1","f":12,"v":0.315},{"p":4,"s":"r1","f":14,"v":0.245},{"p":4,"s":"r1","f":16,"v":0.2},{"p":4,"s":"r1","f":18,"v":0.168},{"p":4,"s":"r1","f":20,"v":0.142},
{"p":4,"s":"r2","f":1,"v":1},{"p":4,"s":"r2","f":2,"v":0.992},{"p":4,"s":"r2","f":3,"v":0.972},{"p":4,"s":"r2","f":4,"v":0.918},{"p":4,"s":"r2","f":5,"v":0.832},{"p":4,"s":"r2","f":6,"v":0.743},{"p":4,"s":"r2","f":7,"v":0.663},{"p":4,"s":"r2","f":8,"v":0.567},{"p":4,"s":"r2","f":9,"v":0.473},{"p":4,"s":"r2","f":10,"v":0.4},{"p":4,"s":"r2","f":11,"v":0.347},{"p":4,"s":"r2","f":12,"v":0.298},{"p":4,"s":"r2","f":14,"v":0.232},{"p":4,"s":"r2","f":16,"v":0.187},{"p":4,"s":"r2","f":18,"v":0.156},{"p":4,"s":"r2","f":20,"v":0.131},
{"p":4,"s":"r3","f":1,"v":1},{"p":4,"s":"r3","f":2,"v":0.988},{"p":4,"s":"r3","f":3,"v":0.963},{"p":4,"s":"r3","f":4,"v":0.902},{"p":4,"s":"r3","f":5,"v":0.808},{"p":4,"s":"r3","f":6,"v":0.717},{"p":4,"s":"r3","f":7,"v":0.637},{"p":4,"s":"r3","f":8,"v":0.543},{"p":4,"s":"r3","f":9,"v":0.452},{"p":4,"s":"r3","f":10,"v":0.38},{"p":4,"s":"r3","f":11,"v":0.328},{"p":4,"s":"r3","f":12,"v":0.282},{"p":4,"s":"r3","f":14,"v":0.218},{"p":4,"s":"r3","f":16,"v":0.173},{"p":4,"s":"r3","f":18,"v":0.144},{"p":4,"s":"r3","f":20,"v":0.119},
{"p":4,"s":"r4","f":1,"v":1},{"p":4,"s":"r4","f":2,"v":0.985},{"p":4,"s":"r4","f":3,"v":0.955},{"p":4,"s":"r4","f":4,"v":0.885},{"p":4,"s":"r4","f":5,"v":0.785},{"p":4,"s":"r4","f":6,"v":0.69},{"p":4,"s":"r4","f":7,"v":0.61},{"p":4,"s":"r4","f":8,"v":0.52},{"p":4,"s":"r4","f":9,"v":0.43},{"p":4,"s":"r4","f":10,"v":0.36},{"p":4,"s":"r4","f":11,"v":0.31},{"p":4,"s":"r4","f":12,"v":0.265},{"p":4,"s":"r4","f":14,"v":0.205},{"p":4,"s":"r4","f":16,"v":0.16},{"p":4,"s":"r4","f":18,"v":0.132},{"p":4,"s":"r4","f":20,"v":0.108},
{"p":4,"s":"b1","f":1,"v":1},{"p":4,"s":"b1","f":2,"v":0.97},{"p":4,"s":"b1","f":3,"v":0.91},{"p":4,"s":"b1","f":4,"v":0.82},{"p":4,"s":"b1","f":5,"v":0.68},{"p":4,"s":"b1","f":6,"v":0.54},{"p":4,"s":"b1","f":7,"v":0.4},{"p":4,"s":"b1","f":8,"v":0.25},{"p":4,"s":"b1","f":9,"v":0.13},{"p":4,"s":"b1","f":10,"v":0.05},{"p":4,"s":"b1","f":11,"v":0},{"p":4,"s":"b1","f":12,"v":-0.04},{"p":4,"s":"b1","f":14,"v":-0.09},{"p":4,"s":"b1","f":16,"v":-0.115},{"p":4,"s":"b1","f":18,"v":-0.125},{"p":4,"s":"b1","f":20,"v":-0.12},
{"p":4,"s":"b2","f":1,"v":0.997},{"p":4,"s":"b2","f":2,"v":0.963},{"p":4,"s":"b2","f":3,"v":0.897},{"p":4,"s":"b2","f":4,"v":0.797},{"p":4,"s":"b2","f":5,"v":0.657},{"p":4,"s":"b2","f":6,"v":0.51},{"p":4,"s":"b2","f":7,"v":0.363},{"p":4,"s":"b2","f":8,"v":0.215},{"p":4,"s":"b2","f":9,"v":0.098},{"p":4,"s":"b2","f":10,"v":0.018},{"p":4,"s":"b2","f":11,"v":-0.032},{"p":4,"s":"b2","f":12,"v":-0.072},{"p":4,"s":"b2","f":14,"v":-0.117},{"p":4,"s":"b2","f":16,"v":-0.131},{"p":4,"s":"b2","f":18,"v":-0.129},{"p":4,"s":"b2","f":20,"v":-0.12},
{"p":4,"s":"b3","f":1,"v":0.993},{"p":4,"s":"b3","f":2,"v":0.957},{"p":4,"s":"b3","f":3,"v":0.883},{"p":4,"s":"b3","f":4,"v":0.773},{"p":4,"s":"b3","f":5,"v":0.633},{"p":4,"s":"b3","f":6,"v":0.48},{"p":4,"s":"b3","f":7,"v":0.327},{"p":4,"s":"b3","f":8,"v":0.18},{"p":4,"s":"b3","f":9,"v":0.067},{"p":4,"s":"b3","f":10,"v":-0.013},{"p":4,"s":"b3","f":11,"v":-0.063},{"p":4,"s":"b3","f":12,"v":-0.103},{"p":4,"s":"b3","f":14,"v":-0.143},{"p":4,"s":"b3","f":16,"v":-0.147},{"p":4,"s":"b3","f":18,"v":-0.133},{"p":4,"s":"b3","f":20,"v":-0.12},
{"p":4,"s":"b4","f":1,"v":0.99},{"p":4,"s":"b4","f":2,"v":0.95},{"p":4,"s":"b4","f":3,"v":0.87},{"p":4,"s":"b4","f":4,"v":0.75},{"p":4,"s":"b4","f":5,"v":0.61},{"p":4,"s":"b4","f":6,"v":0.45},{"p":4,"s":"b4","f":7,"v":0.29},{"p":4,"s":"b4","f":8,"v":0.145},{"p":4,"s":"b4","f":9,"v":0.035},{"p":4,"s":"b4","f":10,"v":-0.045},{"p":4,"s":"b4","f":11,"v":-0.095},{"p":4,"s":"b4","f":12,"v":-0.135},{"p":4,"s":"b4","f":14,"v":-0.17},{"p":4,"s":"b4","f":16,"v":-0.163},{"p":4,"s":"b4","f":18,"v":-0.138},{"p":4,"s":"b4","f":20,"v":-0.12},
{"p":4,"s":"b5","f":1,"v":0.987},{"p":4,"s":"b5","f":2,"v":0.943},{"p":4,"s":"b5","f":3,"v":0.857},{"p":4,"s":"b5","f":4,"v":0.727},{"p":4,"s":"b5","f":5,"v":0.587},{"p":4,"s":"b5","f":6,"v":0.42},{"p":4,"s":"b5","f":7,"v":0.253},{"p":4,"s":"b5","f":8,"v":0.11},{"p":4,"s":"b5","f":9,"v":0.003},{"p":4,"s":"b5","f":10,"v":-0.077},{"p":4,"s":"b5","f":11,"v":-0.127},{"p":4,"s":"b5","f":12,"v":-0.167},{"p":4,"s":"b5","f":14,"v":-0.197},{"p":4,"s":"b5","f":16,"v":-0.178},{"p":4,"s":"b5","f":18,"v":-0.142},{"p":4,"s":"b5","f":20,"v":-0.12},
{"p":4,"s":"b6","f":1,"v":0.983},{"p":4,"s":"b6","f":2,"v":0.937},{"p":4,"s":"b6","f":3,"v":0.843},{"p":4,"s":"b6","f":4,"v":0.703},{"p":4,"s":"b6","f":5,"v":0.563},{"p":4,"s":"b6","f":6,"v":0.39},{"p":4,"s":"b6","f":7,"v":0.217},{"p":4,"s":"b6","f":8,"v":0.075},{"p":4,"s":"b6","f":9,"v":-0.028},{"p":4,"s":"b6","f":10,"v":-0.108},{"p":4,"s":"b6","f":11,"v":-0.158},{"p":4,"s":"b6","f":12,"v":-0.198},{"p":4,"s":"b6","f":14,"v":-0.223},{"p":4,"s":"b6","f":16,"v":-0.194},{"p":4,"s":"b6","f":18,"v":-0.146},{"p":4,"s":"b6","f":20,"v":-0.12},
{"p":4,"s":"b7","f":1,"v":0.98},{"p":4,"s":"b7","f":2,"v":0.93},{"p":4,"s":"b7","f":3,"v":0.83},{"p":4,"s":"b7","f":4,"v":0.68},{"p":4,"s":"b7","f":5,"v":0.54},{"p":4,"s":"b7","f":6,"v":0.36},{"p":4,"s":"b7","f":7,"v":0.18},{"p":4,"s":"b7","f":8,"v":0.04},{"p":4,"s":"b7","f":9,"v":-0.06},{"p":4,"s":"b7","f":10,"v":-0.14},{"p":4,"s":"b7","f":11,"v":-0.19},{"p":4,"s":"b7","f":12,"v":-0.23},{"p":4,"s":"b7","f":14,"v":-0.25},{"p":4,"s":"b7","f":16,"v":-0.21},{"p":4,"s":"b7","f":18,"v":-0.15},{"p":4,"s":"b7","f":20,"v":-0.12},
{"p":4,"s":"g","f":1,"v":0.905},{"p":4,"s":"g","f":1.6,"v":0.88},{"p":4,"s":"g","f":2.1,"v":0.895},{"p":4,"s":"g","f":2.6,"v":0.77},{"p":4,"s":"g","f":3.1,"v":0.795},{"p":4,"s":"g","f":3.45,"v":0.77},{"p":4,"s":"g","f":3.8,"v":0.82},{"p":4,"s":"g","f":4.3,"v":0.81},{"p":4,"s":"g","f":4.6,"v":0.855},{"p":4,"s":"g","f":5,"v":0.83},{"p":4,"s":"g","f":5.5,"v":0.77},{"p":4,"s":"g","f":5.8,"v":0.685},{"p":4,"s":"g","f":6.3,"v":0.685},{"p":4,"s":"g","f":6.7,"v":0.7},{"p":4,"s":"g","f":7,"v":0.745},{"p":4,"s":"g","f":7.4,"v":0.72},{"p":4,"s":"g","f":7.9,"v":0.625},{"p":4,"s":"g","f":8.4,"v":0.59},{"p":4,"s":"g","f":8.9,"v":0.6},{"p":4,"s":"g","f":9.2,"v":0.55},{"p":4,"s":"g","f":9.7,"v":0.59},{"p":4,"s":"g","f":10.25,"v":0.55},{"p":4,"s":"g","f":10.8,"v":0.61},{"p":4,"s":"g","f":11.1,"v":0.54},{"p":4,"s":"g","f":11.6,"v":0.6},{"p":4,"s":"g","f":12.1,"v":0.525},{"p":4,"s":"g","f":12.8,"v":0.525},{"p":4,"s":"g","f":13.3,"v":0.54},{"p":4,"s":"g","f":14.2,"v":0.54},{"p":4,"s":"g","f":14.7,"v":0.6},{"p":4,"s":"g","f":15.4,"v":0.575},{"p":4,"s":"g","f":16,"v":0.55},{"p":4,"s":"g","f":16.5,"v":0.55},{"p":4,"s":"g","f":16.95,"v":0.635},{"p":4,"s":"g","f":17.4,"v":0.585},{"p":4,"s":"g","f":17.9,"v":0.6},{"p":4,"s":"g","f":18.6,"v":0.525},{"p":4,"s":"g","f":19.1,"v":0.465},{"p":4,"s":"g","f":19.7,"v":0.465},{"p":4,"s":"g","f":20,"v":0.46},
{"p":4,"s":"k","f":1,"v":0.66},{"p":4,"s":"k","f":1.6,"v":0.625},{"p":4,"s":"k","f":2.1,"v":0.655},{"p":4,"s":"k","f":2.6,"v":0.6},{"p":4,"s":"k","f":2.95,"v":0.5},{"p":4,"s":"k","f":3.45,"v":0.475},{"p":4,"s":"k","f":3.8,"v":0.465},{"p":4,"s":"k","f":4.1,"v":0.5},{"p":4,"s":"k","f":4.5,"v":0.51},{"p":4,"s":"k","f":4.8,"v":0.575},{"p":4,"s":"k","f":5.05,"v":0.55},{"p":4,"s":"k","f":5.3,"v":0.43},{"p":4,"s":"k","f":5.65,"v":0.305},{"p":4,"s":"k","f":6.2,"v":0.22},{"p":4,"s":"k","f":6.7,"v":0.255},{"p":4,"s":"k","f":7,"v":0.29},{"p":4,"s":"k","f":7.2,"v":0.34},{"p":4,"s":"k","f":7.55,"v":0.205},{"p":4,"s":"k","f":7.7,"v":0.18},{"p":4,"s":"k","f":7.9,"v":0.01},{"p":4,"s":"k","f":8.05,"v":-0.08},{"p":4,"s":"k","f":8.4,"v":0.01},{"p":4,"s":"k","f":8.7,"v":0.06},{"p":4,"s":"k","f":9.1,"v":0.035},{"p":4,"s":"k","f":9.4,"v":0.07},{"p":4,"s":"k","f":9.9,"v":0.035},{"p":4,"s":"k","f":10.25,"v":0.12},{"p":4,"s":"k","f":10.8,"v":0.095},{"p":4,"s":"k","f":11.3,"v":0.11},{"p":4,"s":"k","f":11.8,"v":0.095},{"p":4,"s":"k","f":12.3,"v":0.035},{"p":4,"s":"k","f":12.6,"v":0},{"p":4,"s":"k","f":13,"v":0.045},{"p":4,"s":"k","f":13.5,"v":0.01},{"p":4,"s":"k","f":14,"v":-0.03},{"p":4,"s":"k","f":14.5,"v":0.015},{"p":4,"s":"k","f":15,"v":0.02},{"p":4,"s":"k","f":15.5,"v":-0.04},{"p":4,"s":"k","f":15.8,"v":0.035},{"p":4,"s":"k","f":16.2,"v":-0.03},{"p":4,"s":"k","f":16.55,"v":-0.115},{"p":4,"s":"k","f":16.95,"v":-0.21},{"p":4,"s":"k","f":17.3,"v":-0.3},{"p":4,"s":"k","f":17.9,"v":-0.2},{"p":4,"s":"k","f":18.4,"v":-0.09},{"p":4,"s":"k","f":18.7,"v":-0.065},{"p":4,"s":"k","f":19,"v":-0.018},{"p":4,"s":"k","f":19.3,"v":0.02},{"p":4,"s":"k","f":19.7,"v":0.045},{"p":4,"s":"k","f":20,"v":0.05},
{"p":5,"s":"r1","f":1,"v":1},{"p":5,"s":"r1","f":2,"v":0.98},{"p":5,"s":"r1","f":3,"v":0.945},{"p":5,"s":"r1","f":4,"v":0.895},{"p":5,"s":"r1","f":5,"v":0.835},{"p":5,"s":"r1","f":6,"v":0.75},{"p":5,"s":"r1","f":7,"v":0.665},{"p":5,"s":"r1","f":8,"v":0.585},{"p":5,"s":"r1","f":9,"v":0.505},{"p":5,"s":"r1","f":10,"v":0.44},{"p":5,"s":"r1","f":11,"v":0.385},{"p":5,"s":"r1","f":12,"v":0.335},{"p":5,"s":"r1","f":14,"v":0.25},{"p":5,"s":"r1","f":16,"v":0.185},{"p":5,"s":"r1","f":18,"v":0.14},{"p":5,"s":"r1","f":20,"v":0.12},
{"p":5,"s":"r2","f":1,"v":1},{"p":5,"s":"r2","f":2,"v":0.975},{"p":5,"s":"r2","f":3,"v":0.935},{"p":5,"s":"r2","f":4,"v":0.88},{"p":5,"s":"r2","f":5,"v":0.815},{"p":5,"s":"r2","f":6,"v":0.73},{"p":5,"s":"r2","f":7,"v":0.645},{"p":5,"s":"r2","f":8,"v":0.565},{"p":5,"s":"r2","f":9,"v":0.49},{"p":5,"s":"r2","f":10,"v":0.425},{"p":5,"s":"r2","f":11,"v":0.37},{"p":5,"s":"r2","f":12,"v":0.32},{"p":5,"s":"r2","f":14,"v":0.238},{"p":5,"s":"r2","f":16,"v":0.175},{"p":5,"s":"r2","f":18,"v":0.132},{"p":5,"s":"r2","f":20,"v":0.112},
{"p":5,"s":"b1","f":1,"v":0.99},{"p":5,"s":"b1","f":2,"v":0.94},{"p":5,"s":"b1","f":3,"v":0.86},{"p":5,"s":"b1","f":4,"v":0.75},{"p":5,"s":"b1","f":5,"v":0.56},{"p":5,"s":"b1","f":6,"v":0.37},{"p":5,"s":"b1","f":7,"v":0.23},{"p":5,"s":"b1","f":8,"v":0.09},{"p":5,"s":"b1","f":9,"v":-0.01},{"p":5,"s":"b1","f":10,"v":-0.09},{"p":5,"s":"b1","f":11,"v":-0.14},{"p":5,"s":"b1","f":12,"v":-0.17},{"p":5,"s":"b1","f":14,"v":-0.175},{"p":5,"s":"b1","f":16,"v":-0.14},{"p":5,"s":"b1","f":18,"v":-0.07},{"p":5,"s":"b1","f":20,"v":-0.03},
{"p":5,"s":"b2","f":1,"v":0.988},{"p":5,"s":"b2","f":2,"v":0.936},{"p":5,"s":"b2","f":3,"v":0.852},{"p":5,"s":"b2","f":4,"v":0.726},{"p":5,"s":"b2","f":5,"v":0.528},{"p":5,"s":"b2","f":6,"v":0.342},{"p":5,"s":"b2","f":7,"v":0.204},{"p":5,"s":"b2","f":8,"v":0.064},{"p":5,"s":"b2","f":9,"v":-0.04},{"p":5,"s":"b2","f":10,"v":-0.12},{"p":5,"s":"b2","f":11,"v":-0.168},{"p":5,"s":"b2","f":12,"v":-0.192},{"p":5,"s":"b2","f":14,"v":-0.186},{"p":5,"s":"b2","f":16,"v":-0.146},{"p":5,"s":"b2","f":18,"v":-0.082},{"p":5,"s":"b2","f":20,"v":-0.046},
{"p":5,"s":"b3","f":1,"v":0.986},{"p":5,"s":"b3","f":2,"v":0.932},{"p":5,"s":"b3","f":3,"v":0.844},{"p":5,"s":"b3","f":4,"v":0.702},{"p":5,"s":"b3","f":5,"v":0.496},{"p":5,"s":"b3","f":6,"v":0.314},{"p":5,"s":"b3","f":7,"v":0.178},{"p":5,"s":"b3","f":8,"v":0.038},{"p":5,"s":"b3","f":9,"v":-0.07},{"p":5,"s":"b3","f":10,"v":-0.15},{"p":5,"s":"b3","f":11,"v":-0.196},{"p":5,"s":"b3","f":12,"v":-0.214},{"p":5,"s":"b3","f":14,"v":-0.197},{"p":5,"s":"b3","f":16,"v":-0.152},{"p":5,"s":"b3","f":18,"v":-0.094},{"p":5,"s":"b3","f":20,"v":-0.062},
{"p":5,"s":"b4","f":1,"v":0.984},{"p":5,"s":"b4","f":2,"v":0.928},{"p":5,"s":"b4","f":3,"v":0.836},{"p":5,"s":"b4","f":4,"v":0.678},{"p":5,"s":"b4","f":5,"v":0.464},{"p":5,"s":"b4","f":6,"v":0.286},{"p":5,"s":"b4","f":7,"v":0.152},{"p":5,"s":"b4","f":8,"v":0.012},{"p":5,"s":"b4","f":9,"v":-0.1},{"p":5,"s":"b4","f":10,"v":-0.18},{"p":5,"s":"b4","f":11,"v":-0.224},{"p":5,"s":"b4","f":12,"v":-0.236},{"p":5,"s":"b4","f":14,"v":-0.208},{"p":5,"s":"b4","f":16,"v":-0.158},{"p":5,"s":"b4","f":18,"v":-0.106},{"p":5,"s":"b4","f":20,"v":-0.078},
{"p":5,"s":"b5","f":1,"v":0.982},{"p":5,"s":"b5","f":2,"v":0.924},{"p":5,"s":"b5","f":3,"v":0.828},{"p":5,"s":"b5","f":4,"v":0.654},{"p":5,"s":"b5","f":5,"v":0.432},{"p":5,"s":"b5","f":6,"v":0.258},{"p":5,"s":"b5","f":7,"v":0.126},{"p":5,"s":"b5","f":8,"v":-0.014},{"p":5,"s":"b5","f":9,"v":-0.13},{"p":5,"s":"b5","f":10,"v":-0.21},{"p":5,"s":"b5","f":11,"v":-0.252},{"p":5,"s":"b5","f":12,"v":-0.258},{"p":5,"s":"b5","f":14,"v":-0.219},{"p":5,"s":"b5","f":16,"v":-0.164},{"p":5,"s":"b5","f":18,"v":-0.118},{"p":5,"s":"b5","f":20,"v":-0.094},
{"p":5,"s":"b6","f":1,"v":0.98},{"p":5,"s":"b6","f":2,"v":0.92},{"p":5,"s":"b6","f":3,"v":0.82},{"p":5,"s":"b6","f":4,"v":0.63},{"p":5,"s":"b6","f":5,"v":0.4},{"p":5,"s":"b6","f":6,"v":0.23},{"p":5,"s":"b6","f":7,"v":0.1},{"p":5,"s":"b6","f":8,"v":-0.04},{"p":5,"s":"b6","f":9,"v":-0.16},{"p":5,"s":"b6","f":10,"v":-0.24},{"p":5,"s":"b6","f":11,"v":-0.28},{"p":5,"s":"b6","f":12,"v":-0.28},{"p":5,"s":"b6","f":14,"v":-0.23},{"p":5,"s":"b6","f":16,"v":-0.17},{"p":5,"s":"b6","f":18,"v":-0.13},{"p":5,"s":"b6","f":20,"v":-0.11},
{"p":5,"s":"g","f":1,"v":0.86},{"p":5,"s":"g","f":1.5,"v":0.87},{"p":5,"s":"g","f":2,"v":0.835},{"p":5,"s":"g","f":2.5,"v":0.845},{"p":5,"s":"g","f":3.05,"v":0.81},{"p":5,"s":"g","f":3.4,"v":0.795},{"p":5,"s":"g","f":3.9,"v":0.86},{"p":5,"s":"g","f":4.25,"v":0.835},{"p":5,"s":"g","f":4.75,"v":0.81},{"p":5,"s":"g","f":5.1,"v":0.76},{"p":5,"s":"g","f":5.5,"v":0.65},{"p":5,"s":"g","f":5.95,"v":0.66},{"p":5,"s":"g","f":6.45,"v":0.64},{"p":5,"s":"g","f":6.8,"v":0.645},{"p":5,"s":"g","f":7.05,"v":0.72},{"p":5,"s":"g","f":7.45,"v":0.675},{"p":5,"s":"g","f":8,"v":0.575},{"p":5,"s":"g","f":8.5,"v":0.59},{"p":5,"s":"g","f":9.2,"v":0.55},{"p":5,"s":"g","f":9.7,"v":0.565},{"p":5,"s":"g","f":10.05,"v":0.53},{"p":5,"s":"g","f":10.55,"v":0.5},{"p":5,"s":"g","f":11.05,"v":0.44},{"p":5,"s":"g","f":11.4,"v":0.465},{"p":5,"s":"g","f":11.65,"v":0.55},{"p":5,"s":"g","f":12.1,"v":0.515},{"p":5,"s":"g","f":12.6,"v":0.455},{"p":5,"s":"g","f":13.1,"v":0.48},{"p":5,"s":"g","f":13.6,"v":0.465},{"p":5,"s":"g","f":14.1,"v":0.49},{"p":5,"s":"g","f":14.6,"v":0.5},{"p":5,"s":"g","f":15.15,"v":0.54},{"p":5,"s":"g","f":15.65,"v":0.49},{"p":5,"s":"g","f":16.15,"v":0.5},{"p":5,"s":"g","f":16.7,"v":0.54},{"p":5,"s":"g","f":17,"v":0.49},{"p":5,"s":"g","f":17.5,"v":0.515},{"p":5,"s":"g","f":17.85,"v":0.5},{"p":5,"s":"g","f":18.55,"v":0.44},{"p":5,"s":"g","f":19.06,"v":0.53},{"p":5,"s":"g","f":19.5,"v":0.48},{"p":5,"s":"g","f":20,"v":0.45},
{"p":5,"s":"k","f":1,"v":0.6},{"p":5,"s":"k","f":1.7,"v":0.555},{"p":5,"s":"k","f":2.2,"v":0.55},{"p":5,"s":"k","f":2.7,"v":0.48},{"p":5,"s":"k","f":3.2,"v":0.33},{"p":5,"s":"k","f":3.55,"v":0.32},{"p":5,"s":"k","f":3.7,"v":0.28},{"p":5,"s":"k","f":4,"v":0.355},{"p":5,"s":"k","f":4.4,"v":0.325},{"p":5,"s":"k","f":4.9,"v":0.31},{"p":5,"s":"k","f":5.2,"v":0.21},{"p":5,"s":"k","f":5.45,"v":0.16},{"p":5,"s":"k","f":5.7,"v":0.04},{"p":5,"s":"k","f":6,"v":0.025},{"p":5,"s":"k","f":6.35,"v":0.075},{"p":5,"s":"k","f":6.7,"v":0.05},{"p":5,"s":"k","f":7.1,"v":0.075},{"p":5,"s":"k","f":7.5,"v":0.01},{"p":5,"s":"k","f":7.9,"v":-0.135},{"p":5,"s":"k","f":8.3,"v":-0.07},{"p":5,"s":"k","f":8.85,"v":-0.12},{"p":5,"s":"k","f":9,"v":-0.16},{"p":5,"s":"k","f":9.35,"v":-0.07},{"p":5,"s":"k","f":9.7,"v":0.013},{"p":5,"s":"k","f":10.1,"v":0.087},{"p":5,"s":"k","f":10.55,"v":0.013},{"p":5,"s":"k","f":11.05,"v":-0.1},{"p":5,"s":"k","f":11.55,"v":-0.135},{"p":5,"s":"k","f":11.9,"v":-0.17},{"p":5,"s":"k","f":12.4,"v":-0.12},{"p":5,"s":"k","f":12.9,"v":-0.145},{"p":5,"s":"k","f":13.25,"v":-0.12},{"p":5,"s":"k","f":13.95,"v":-0.16},{"p":5,"s":"k","f":14.45,"v":-0.01},{"p":5,"s":"k","f":14.95,"v":-0.025},{"p":5,"s":"k","f":15.3,"v":-0.1},{"p":5,"s":"k","f":16,"v":-0.085},{"p":5,"s":"k","f":16.5,"v":-0.05},{"p":5,"s":"k","f":17,"v":-0.07},{"p":5,"s":"k","f":17.5,"v":-0.125},{"p":5,"s":"k","f":18.2,"v":-0.026},{"p":5,"s":"k","f":18.7,"v":0},{"p":5,"s":"k","f":19.06,"v":0.06},{"p":5,"s":"k","f":19.5,"v":0.13},{"p":5,"s":"k","f":20,"v":0.15}
]},
"hconcat": [
 {"width": 24, "height": 653, "view": {"stroke": null},
  "data": {"values": [{"t": "Lagged, Unlagged coherency – Plane wave coherency"}]},
  "mark": {"type": "text", "angle": 270, "fontSize": 24, "fontWeight": "bold", "font": "Liberation Sans", "align": "center", "baseline": "middle", "color": "black"},
  "encoding": {"text": {"field": "t"}}},
 {"concat": [
 {"width": 372, "height": 160, "title": {"text": "D=[0 40] m"}, "data": {"name": "d"}, "transform": [{"filter": "datum.p == 1"}],
  "encoding": {"x": {"field": "f", "type": "quantitative", "scale": {"domain": [1, 20], "nice": false, "zero": false}, "axis": {"values": [1,3,5,7,9,11,13,15,17,19], "title": null}},
   "y": {"field": "v", "type": "quantitative", "scale": {"domain": [-0.2, 1], "nice": false, "zero": false}, "axis": {"values": [-0.2,0,0.2,0.4,0.6,0.8,1], "format": "~g", "title": null}},
   "detail": {"field": "s", "type": "nominal"}},
  "layer": [
   {"transform": [{"filter": "test(/^r/, datum.s)"}], "mark": {"type": "line", "color": "#ff0000", "strokeWidth": 2.5, "strokeDash": [8, 5], "interpolate": "monotone", "clip": true}},
   {"transform": [{"filter": "test(/^b/, datum.s)"}], "mark": {"type": "line", "color": "#0000ff", "strokeWidth": 2.5, "strokeDash": [8, 5], "interpolate": "monotone", "clip": true}},
   {"transform": [{"filter": "datum.s == 'g'"}], "mark": {"type": "line", "color": "#808080", "strokeWidth": 2.8, "clip": true}},
   {"transform": [{"filter": "datum.s == 'k'"}], "mark": {"type": "line", "color": "#000000", "strokeWidth": 4, "clip": true}}
  ]},
 {"width": 366, "height": 160, "title": {"text": "D=[40 80] m"}, "data": {"name": "d"}, "transform": [{"filter": "datum.p == 2"}],
  "encoding": {"x": {"field": "f", "type": "quantitative", "scale": {"domain": [1, 19.68], "nice": false, "zero": false}, "axis": {"values": [1,3,5,7,9,11,13,15,17,19], "title": null}},
   "y": {"field": "v", "type": "quantitative", "scale": {"domain": [-0.2, 1], "nice": false, "zero": false}, "axis": {"values": [-0.2,0,0.2,0.4,0.6,0.8,1], "format": "~g", "title": null}},
   "detail": {"field": "s", "type": "nominal"}},
  "layer": [
   {"transform": [{"filter": "test(/^r/, datum.s)"}], "mark": {"type": "line", "color": "#ff0000", "strokeWidth": 2.5, "strokeDash": [8, 5], "interpolate": "monotone", "clip": true}},
   {"transform": [{"filter": "test(/^b/, datum.s)"}], "mark": {"type": "line", "color": "#0000ff", "strokeWidth": 2.5, "strokeDash": [8, 5], "interpolate": "monotone", "clip": true}},
   {"transform": [{"filter": "datum.s == 'g'"}], "mark": {"type": "line", "color": "#808080", "strokeWidth": 2.8, "clip": true}},
   {"transform": [{"filter": "datum.s == 'k'"}], "mark": {"type": "line", "color": "#000000", "strokeWidth": 4, "clip": true}}
  ]},
 {"width": 372, "height": 164, "title": {"text": "D=[80 120] m"}, "data": {"name": "d"}, "transform": [{"filter": "datum.p == 3"}],
  "encoding": {"x": {"field": "f", "type": "quantitative", "scale": {"domain": [1, 20], "nice": false, "zero": false}, "axis": {"values": [1,3,5,7,9,11,13,15,17,19], "title": null}},
   "y": {"field": "v", "type": "quantitative", "scale": {"domain": [-0.2, 1], "nice": false, "zero": false}, "axis": {"values": [-0.2,0,0.2,0.4,0.6,0.8,1], "format": "~g", "title": null}},
   "detail": {"field": "s", "type": "nominal"}},
  "layer": [
   {"transform": [{"filter": "test(/^r/, datum.s)"}], "mark": {"type": "line", "color": "#ff0000", "strokeWidth": 2.5, "strokeDash": [8, 5], "interpolate": "monotone", "clip": true}},
   {"transform": [{"filter": "test(/^b/, datum.s)"}], "mark": {"type": "line", "color": "#0000ff", "strokeWidth": 2.5, "strokeDash": [8, 5], "interpolate": "monotone", "clip": true}},
   {"transform": [{"filter": "datum.s == 'g'"}], "mark": {"type": "line", "color": "#808080", "strokeWidth": 2.8, "clip": true}},
   {"transform": [{"filter": "datum.s == 'k'"}], "mark": {"type": "line", "color": "#000000", "strokeWidth": 4, "clip": true}}
  ]},
 {"width": 366, "height": 164, "title": {"text": "D=[120 160] m"}, "data": {"name": "d"}, "transform": [{"filter": "datum.p == 4"}],
  "encoding": {"x": {"field": "f", "type": "quantitative", "scale": {"domain": [1, 19.68], "nice": false, "zero": false}, "axis": {"values": [1,3,5,7,9,11,13,15,17,19], "title": "Frequency (Hz)"}},
   "y": {"field": "v", "type": "quantitative", "scale": {"domain": [-0.2, 1], "nice": false, "zero": false}, "axis": {"values": [-0.2,0,0.2,0.4,0.6,0.8,1], "format": "~g", "title": null}},
   "detail": {"field": "s", "type": "nominal"}},
  "layer": [
   {"transform": [{"filter": "test(/^r/, datum.s)"}], "mark": {"type": "line", "color": "#ff0000", "strokeWidth": 2.5, "strokeDash": [8, 5], "interpolate": "monotone", "clip": true}},
   {"transform": [{"filter": "test(/^b/, datum.s)"}], "mark": {"type": "line", "color": "#0000ff", "strokeWidth": 2.5, "strokeDash": [8, 5], "interpolate": "monotone", "clip": true}},
   {"transform": [{"filter": "datum.s == 'g'"}], "mark": {"type": "line", "color": "#808080", "strokeWidth": 2.8, "clip": true}},
   {"transform": [{"filter": "datum.s == 'k'"}], "mark": {"type": "line", "color": "#000000", "strokeWidth": 4, "clip": true}}
  ]},
 {"width": 372, "height": 163, "title": {"text": "D=[160 200] m"}, "data": {"name": "d"}, "transform": [{"filter": "datum.p == 5"}],
  "encoding": {"x": {"field": "f", "type": "quantitative", "scale": {"domain": [1, 20], "nice": false, "zero": false}, "axis": {"values": [1,3,5,7,9,11,13,15,17,19], "title": "Frequency (Hz)"}},
   "y": {"field": "v", "type": "quantitative", "scale": {"domain": [-0.2, 1], "nice": false, "zero": false}, "axis": {"values": [-0.2,0,0.2,0.4,0.6,0.8,1], "format": "~g", "title": null}},
   "detail": {"field": "s", "type": "nominal"}},
  "layer": [
   {"transform": [{"filter": "test(/^r/, datum.s)"}], "mark": {"type": "line", "color": "#ff0000", "strokeWidth": 2.5, "strokeDash": [8, 5], "interpolate": "monotone", "clip": true}},
   {"transform": [{"filter": "test(/^b/, datum.s)"}], "mark": {"type": "line", "color": "#0000ff", "strokeWidth": 2.5, "strokeDash": [8, 5], "interpolate": "monotone", "clip": true}},
   {"transform": [{"filter": "datum.s == 'g'"}], "mark": {"type": "line", "color": "#808080", "strokeWidth": 2.8, "clip": true}},
   {"transform": [{"filter": "datum.s == 'k'"}], "mark": {"type": "line", "color": "#000000", "strokeWidth": 4, "clip": true}}
  ]},
 {"width": 366, "height": 163, "view": {"stroke": null},
  "data": {"values": [{"lab": "St Guerin, Lagged coh.", "o": 1}, {"lab": "Plane Wave coh. (Abrahamson 2009)", "o": 2}, {"lab": "Unlagged coh. (Abrahamson 2009)", "o": 3}, {"lab": "St Guerin, Unagged coh.", "o": 4}]},
  "mark": {"type": "text", "align": "left", "baseline": "middle", "fontSize": 22, "font": "Liberation Sans", "x": -25},
  "encoding": {
   "y": {"field": "lab", "type": "nominal", "sort": {"field": "o"}, "axis": null, "scale": {"type": "point", "range": [51, 171], "padding": 0}},
   "text": {"field": "lab"},
   "color": {"field": "lab", "type": "nominal", "scale": {"domain": ["St Guerin, Lagged coh.", "Plane Wave coh. (Abrahamson 2009)", "Unlagged coh. (Abrahamson 2009)", "St Guerin, Unagged coh."], "range": ["#808080", "#ff0000", "#0000ff", "#000000"]}, "legend": null}
  }}
 ],
 "columns": 2,
 "spacing": {"row": 83, "column": 117},
 "bounds": "flush"}
],
"spacing": 56,
"bounds": "flush"
}
